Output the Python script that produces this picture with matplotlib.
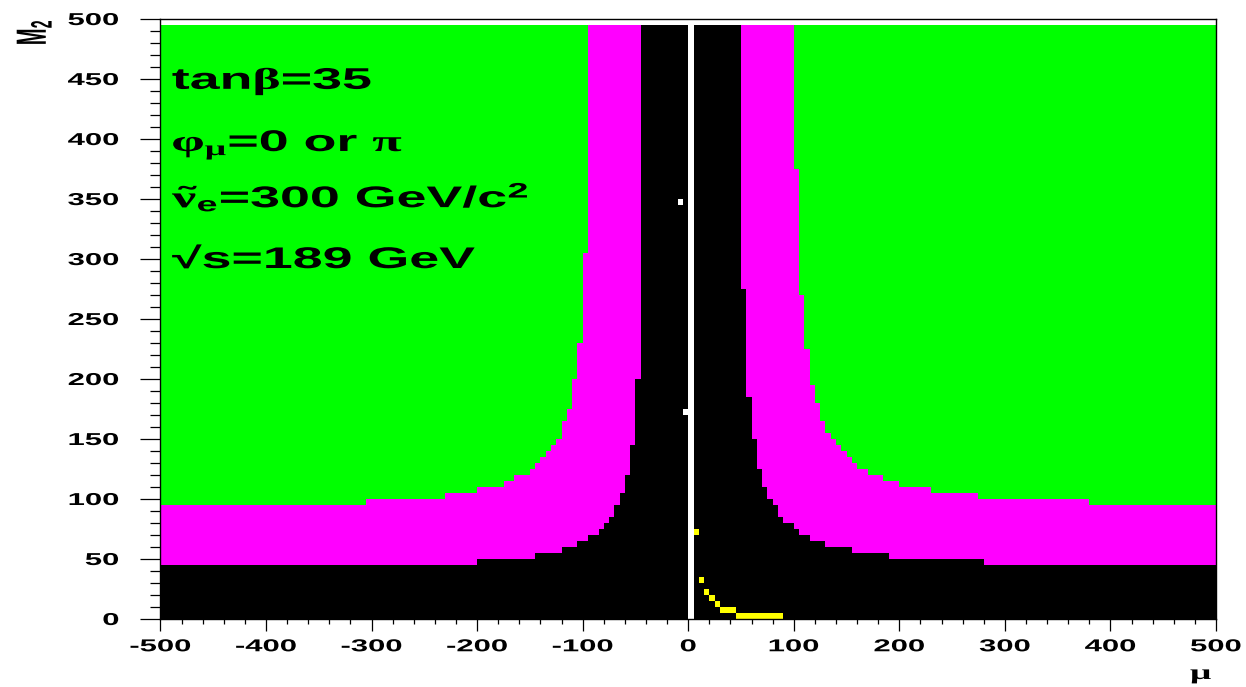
import numpy as np
import matplotlib
matplotlib.use("Agg")
import matplotlib.pyplot as plt
from matplotlib.patheffects import AbstractPathEffect
from matplotlib.transforms import Affine2D

plt.rcParams["font.family"] = ["Liberation Sans", "DejaVu Sans"]
plt.rcParams["font.weight"] = "bold"
plt.rcParams["axes.unicode_minus"] = False
plt.rcParams["mathtext.fontset"] = "custom"
plt.rcParams["mathtext.rm"] = "Liberation Sans"
plt.rcParams["mathtext.it"] = "Liberation Serif"
plt.rcParams["mathtext.bf"] = "Liberation Sans:bold"

# scan grid: 5 GeV bins, mu column [0,5) not scanned
step = 5
m2_max = 495

# excluded region (black): top of each mu column
left_black_edges = [-500, -200, -145, -120, -105, -95, -85, -80, -75, -70, -65, -60, -55, -50, -45, 0]
left_black_tops = [45, 50, 55, 60, 65, 70, 75, 80, 85, 95, 105, 120, 145, 200, 495]
right_black_edges = [5, 50, 55, 60, 65, 70, 75, 80, 85, 90, 100, 105, 115, 130, 155, 190, 280, 500]
right_black_tops = [495, 275, 185, 150, 125, 110, 100, 95, 85, 80, 75, 70, 65, 60, 55, 50, 45]

# second band (magenta)
left_magenta_edges = [-500, -305, -230, -200, -175, -165, -150, -145, -140, -135, -130, -125,
                      -120, -115, -110, -105, -100, -95, 0]
left_magenta_tops = [95, 100, 105, 110, 115, 120, 125, 130, 135, 140, 145, 150,
                     165, 175, 200, 230, 305, 495]
right_magenta_edges = [5, 100, 105, 110, 115, 120, 125, 130, 135, 140, 145, 150, 155, 160,
                       170, 185, 200, 230, 275, 380, 500]
right_magenta_tops = [495, 375, 270, 225, 195, 180, 165, 155, 150, 145, 140, 135, 130, 125,
                      120, 115, 110, 105, 100, 95]

# single cells: yellow points and empty points inside the black band
yellow_mu = [5, 10, 15, 20, 25, 30, 35, 40, 45, 50, 55, 60, 65, 70, 75, 80, 85]
yellow_m2 = [70, 30, 20, 15, 10, 5, 5, 5, 0, 0, 0, 0, 0, 0, 0, 0, 0]
empty_mu = [-10, -5]
empty_m2 = [345, 170]

labels = [r"tan$\beta$=35",
          r"$\varphi_{\mu}$=0 or $\pi$",
          r"$\tilde{\nu}_{\mathbf{e}}$=300 GeV/c$^{\mathbf{2}}$",
          "\u221as=189 GeV"]


class Widen(AbstractPathEffect):
    """Stretch glyph outlines sideways about a point of their extent."""

    def __init__(self, sx=1.8, anchor=0.0):
        super().__init__()
        self._sx = sx
        self._anchor = anchor

    def draw_path(self, renderer, gc, tpath, affine, rgbFace=None):
        box = tpath.get_extents(affine)
        x0 = box.x0 + self._anchor * box.width
        widen = Affine2D().translate(-x0, 0).scale(self._sx, 1).translate(x0, 0)
        renderer.draw_path(gc, tpath, affine + widen, rgbFace)


def columns(ax, edges, tops, color):
    edges = np.asarray(edges)
    ax.bar(edges[:-1], tops, width=np.diff(edges), align="edge",
           color=color, linewidth=0, antialiased=False)


fig = plt.figure(figsize=(12.46, 6.87), dpi=100)
ax = fig.add_axes([0.1288, 0.0990, 0.8471, 0.8733])

# allowed region (green) everywhere that was scanned
for edges in (left_magenta_edges, right_magenta_edges):
    ax.bar(edges[0], m2_max, width=edges[-1] - edges[0], align="edge",
           color="#00ff00", linewidth=0, antialiased=False)

columns(ax, left_magenta_edges, left_magenta_tops, "#ff00ff")
columns(ax, right_magenta_edges, right_magenta_tops, "#ff00ff")
columns(ax, left_black_edges, left_black_tops, "black")
columns(ax, right_black_edges, right_black_tops, "black")

ax.bar(yellow_mu, step, width=step, bottom=yellow_m2, align="edge",
       color="#ffff00", linewidth=0, antialiased=False)
ax.bar(empty_mu, step, width=step, bottom=empty_m2, align="edge",
       color="white", linewidth=0, antialiased=False)

ax.set_xlim(-500, 500)
ax.set_ylim(0, 500)

ax.set_xticks(np.arange(-500, 501, 100))
ax.set_xticks(np.arange(-500, 501, 20), minor=True)
ax.set_yticks(np.arange(0, 501, 50))
ax.set_yticks(np.arange(0, 501, 10), minor=True)
ax.tick_params(axis="x", which="major", direction="out", length=8.6, width=0.9, pad=6, labelsize=12.4)
ax.tick_params(axis="x", which="minor", direction="out", length=3.6, width=0.9)
ax.tick_params(axis="y", which="major", direction="out", length=14.4, width=0.9, pad=15.5, labelsize=12.4)
ax.tick_params(axis="y", which="minor", direction="out", length=7.2, width=0.9)
for lbl in ax.get_xticklabels():
    lbl.set_path_effects([Widen(1.8, 0.5)])
for lbl in ax.get_yticklabels():
    lbl.set_path_effects([Widen(1.8, 1.0)])

for sp in ax.spines.values():
    sp.set_linewidth(1.0)

ax.set_xlabel(r"$\mu$", loc="right", fontsize=15)
ax.xaxis.set_label_coords(0.997, -0.080)
ax.xaxis.label.set_path_effects([Widen(1.8, 1.0)])
ax.set_ylabel(r"M$_2$", loc="top", fontsize=14.5, fontweight="bold")
ax.yaxis.set_label_coords(-0.101, 1.0)
ax.yaxis.label.set_path_effects([Widen(2.1, 1.0)])

ys = [441.7, 390, 343, 292.5]
for txt, y in zip(labels, ys):
    ax.text(-489, y, txt, fontsize=21.5, fontweight="bold", va="baseline", ha="left",
            path_effects=[Widen(1.8, 0.0)])

fig.savefig("out.png", dpi=100)
